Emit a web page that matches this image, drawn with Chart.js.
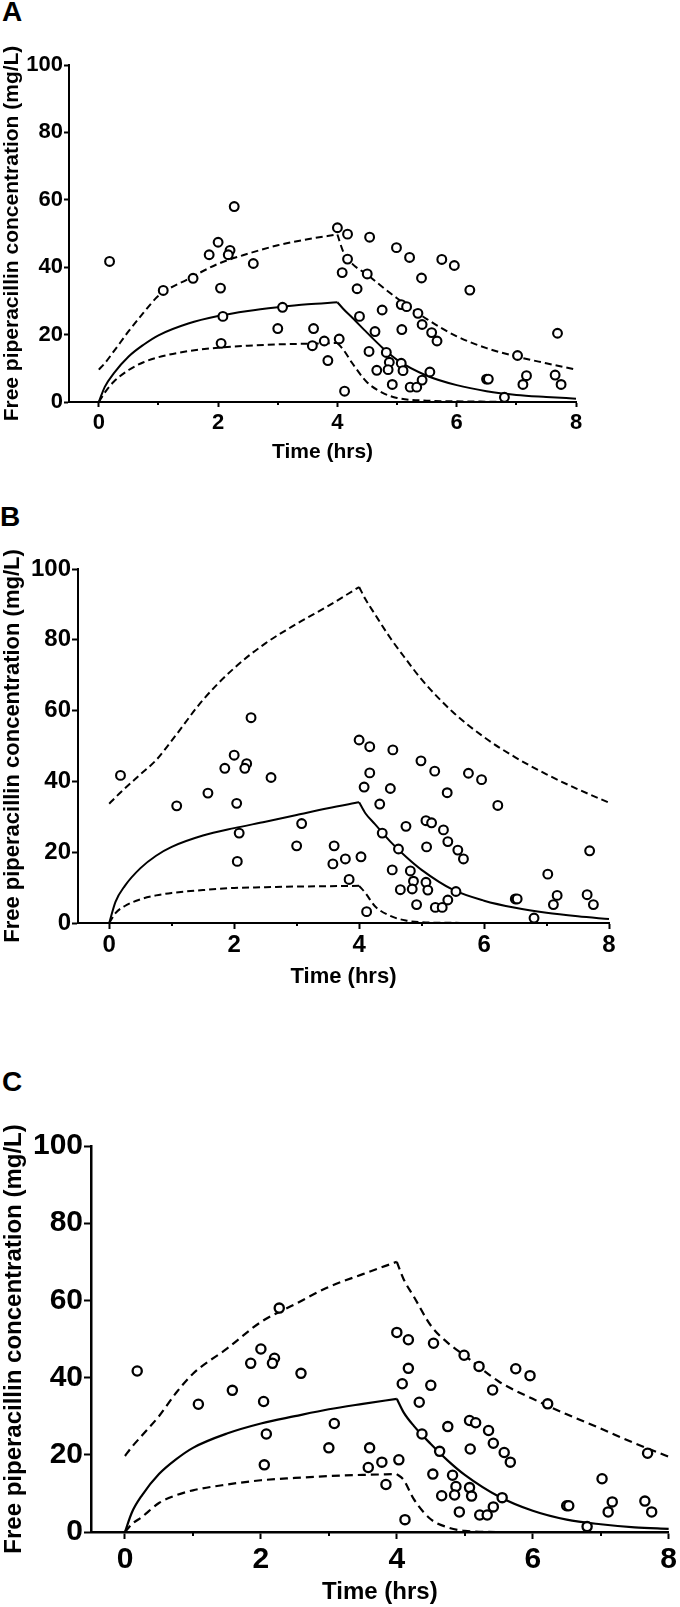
<!DOCTYPE html>
<html>
<head>
<meta charset="utf-8">
<title>Free piperacillin concentration</title>
<script src="https://cdn.jsdelivr.net/npm/chart.js@4.4.1/dist/chart.umd.min.js"></script>
<style>
  html, body { margin: 0; padding: 0; background: #fff; }
  body { position: relative; width: 680px; height: 1607px; overflow: hidden; font-family: 'Liberation Sans', Arial, sans-serif; }
  canvas { position: absolute; left: 0; }
  .letter { position: absolute; font-weight: bold; font-size: 28px; line-height: 28px; color: #000; }
</style>
</head>
<body>
<div class="letter" style="left:2px;top:-2px">A</div>
<div class="letter" style="left:0px;top:503px">B</div>
<div class="letter" style="left:2px;top:1068px">C</div>
<canvas id="chartA" width="680" height="465" style="top:0px;width:680px;height:465px"></canvas>
<canvas id="chartB" width="680" height="520" style="top:470px;width:680px;height:520px"></canvas>
<canvas id="chartC" width="680" height="567" style="top:1040px;width:680px;height:567px"></canvas>
<script>
// observed concentrations (same points in every panel)
const obsTime = [0.18, 1.08, 1.58, 1.85, 2.0, 2.2, 2.17, 2.27, 2.04, 2.59, 2.08, 2.05, 3.08, 3.0, 3.6, 3.58,
  3.78, 3.84, 4.03, 4.0, 4.17, 4.54, 4.99, 5.21, 5.75, 5.96, 4.17, 4.08, 4.5, 5.41, 4.33, 6.22, 5.07, 5.16,
  4.75, 5.35, 4.37, 5.42, 4.63, 5.08, 5.58, 5.67, 4.53, 4.82, 4.87, 5.07, 4.66, 4.85, 5.1, 5.55, 4.12, 4.92,
  5.22, 5.33, 5.42, 6.5, 6.53, 6.8, 7.02, 7.17, 7.11, 7.69, 7.65, 7.75];
const obsConc = [41.7, 33.1, 36.7, 43.7, 47.4, 45.0, 43.7, 58.0, 33.8, 41.1, 25.4, 17.4, 28.1, 21.8, 21.8, 16.7,
  18.1, 12.3, 18.7, 51.7, 49.8, 48.9, 45.8, 42.9, 42.3, 40.5, 42.4, 38.4, 38.0, 36.8, 33.6, 33.2, 28.9, 28.3,
  27.3, 26.3, 25.4, 23.0, 20.9, 21.5, 20.6, 18.1, 15.0, 14.7, 11.8, 11.5, 9.4, 9.6, 9.3, 8.9, 3.2, 5.2,
  4.4, 4.4, 6.5, 6.8, 6.8, 1.4, 13.8, 7.8, 5.2, 20.4, 8.0, 5.2];

// simulated curves: infusion phase (0-4 h) and post-infusion phase (4-8 h)
const riseTime = [0, 0.1, 0.25, 0.5, 0.75, 1, 1.5, 2, 2.5, 3, 3.5, 4];
const fallTime = [4, 4.1, 4.25, 4.5, 4.75, 5, 5.5, 6, 6.5, 7, 7.5, 8];

const aMedianRise = [0, 4.5, 8.5, 13.5, 17, 19.8, 23.3, 25.5, 27, 28.1, 29, 29.6];
const aMedianFall = [29.6, 27.6, 25, 20.5, 16.2, 12.5, 7.8, 5, 3.2, 2.1, 1.5, 1.0];
const aUpperRise = [9.6, 11.5, 15, 21, 26.5, 31.5, 36.5, 41, 44, 46.5, 48.3, 49.7];
const aUpperFall = [49.7, 44.5, 41, 37.8, 34.2, 30.8, 24.6, 19.5, 16, 13.5, 11.5, 9.6];
const aLowerRise = [0, 2.8, 6, 9.5, 11.8, 13.3, 15.1, 16.1, 16.7, 17.1, 17.3, 17.5];
const aLowerFall = [17.5, 15.5, 11.5, 5.8, 2.8, 1.2, 0.4, 0.2, 0.1, 0, 0, 0];

const bMedianRise = [0, 6, 10.5, 15.5, 19, 21.5, 24.7, 26.8, 28.6, 30.5, 32.4, 34.1];
const bMedianFall = [34.1, 31, 28, 23, 18.7, 15, 9.4, 6.3, 4.3, 2.9, 1.9, 1.1];
const bUpperRise = [33.7, 35.5, 38, 42, 46, 51.5, 63, 72, 79, 84.5, 89.5, 94.9];
const bUpperFall = [94.9, 91.5, 87.3, 80.5, 74.5, 68.8, 59.6, 52.5, 46.8, 42, 37.8, 34];
const bLowerRise = [0, 2.8, 4.8, 6.7, 7.8, 8.5, 9.3, 9.9, 10.1, 10.3, 10.4, 10.5];
const bLowerFall = [10.5, 8.5, 4.8, 2.0, 0.7, 0.2, 0.05, 0, 0, 0, 0, 0];

const cMedianRise = [0, 5, 9.5, 15, 18.8, 21.8, 25.5, 28.1, 30, 31.8, 33.2, 34.5];
const cMedianFall = [34.5, 31, 27.5, 22.8, 18.5, 14.8, 9.2, 5.5, 3.2, 2.0, 1.2, 0.8];
const cUpperRise = [19.7, 22, 25, 30, 36, 41, 47.5, 54.4, 59, 63.5, 66.8, 70];
const cUpperFall = [70, 65.5, 61, 53.5, 49, 45.7, 39, 34.5, 30.5, 26.8, 23, 19.5];
const cLowerRise = [0, 2, 3.9, 7.5, 9.5, 10.8, 12.3, 13.4, 14, 14.5, 14.8, 15];
const cLowerFall = [15, 13.5, 8.5, 3.3, 1.2, 0.3, 0, 0, 0, 0, 0, 0];

const xTicks = [0, 2, 4, 6, 8];
const xMinorTicks = [1, 3, 5, 7];
const yTicks = [0, 20, 40, 60, 80, 100];

const FONT = "'Liberation Sans', Arial, sans-serif";

// short unlabeled ticks at the odd hours
const minorTicks = {
    id: 'minorTicks',
    afterDraw(chart, args, opts) {
        const { ctx, chartArea } = chart;
        const x = chart.scales.x;
        ctx.save();
        ctx.strokeStyle = '#000';
        ctx.lineWidth = opts.width;
        xMinorTicks.forEach(v => {
            const px = Math.round(x.getPixelForValue(v));
            ctx.beginPath();
            ctx.moveTo(px, chartArea.bottom);
            ctx.lineTo(px, chartArea.bottom + opts.length);
            ctx.stroke();
        });
        ctx.restore();
    }
};

function curve(times, values, dash, width) {
    return {
        type: 'line',
        data: times.map((t, i) => ({ x: t, y: values[i] })),
        borderColor: '#000',
        borderWidth: width,
        borderDash: dash,
        pointRadius: 0,
        fill: false,
        cubicInterpolationMode: 'monotone',
        clip: false
    };
}

function drawPanel(id, series, p) {
    const ctx = document.getElementById(id).getContext('2d');
    const dash = p.dash;
    new Chart(ctx, {
        type: 'scatter',
        data: {
            datasets: [
                {
                    type: 'scatter',
                    data: obsTime.map((t, i) => ({ x: t, y: obsConc[i] })),
                    pointStyle: 'circle',
                    pointRadius: p.pointRadius,
                    pointBorderWidth: p.pointBorder,
                    borderColor: '#000',
                    backgroundColor: '#fff',
                    clip: false
                },
                curve(riseTime, series.medianRise, [], p.lineWidth),
                curve(fallTime, series.medianFall, [], p.lineWidth),
                curve(riseTime, series.upperRise, dash, p.lineWidth),
                curve(fallTime, series.upperFall, dash, p.lineWidth),
                curve(riseTime, series.lowerRise, dash, p.lineWidth),
                curve(fallTime, series.lowerFall, dash, p.lineWidth)
            ]
        },
        options: {
            responsive: false,
            animation: false,
            events: [],
            layout: { padding: { top: p.top, right: p.right, left: 0, bottom: 0 } },
            plugins: {
                legend: { display: false },
                tooltip: { enabled: false },
                minorTicks: { length: p.minorLen, width: 2 }
            },
            scales: {
                x: {
                    type: 'linear',
                    min: -0.5,
                    max: 8,
                    afterBuildTicks: s => { s.ticks = xTicks.map(v => ({ value: v })); },
                    afterFit: s => { s.height = p.xAxisHeight; },
                    grid: { drawOnChartArea: false, drawTicks: true, tickLength: p.tickLen, tickWidth: 2, tickColor: '#000' },
                    border: { display: true, color: '#000', width: p.axisWidth },
                    ticks: { color: '#000', padding: p.xTickPad, maxRotation: 0, font: { family: FONT, size: p.tickFont, weight: 'bold' } },
                    title: {
                        display: true,
                        text: 'Time (hrs)',
                        color: '#000',
                        padding: { top: 0, bottom: 0 },
                        font: { family: FONT, size: p.titleFont, weight: 'bold' }
                    }
                },
                y: {
                    type: 'linear',
                    min: 0,
                    max: 100,
                    afterBuildTicks: s => { s.ticks = yTicks.map(v => ({ value: v })); },
                    afterFit: s => { s.width = p.yAxisWidth; },
                    grid: { drawOnChartArea: false, drawTicks: true, tickLength: p.tickLen, tickWidth: 2, tickColor: '#000' },
                    border: { display: true, color: '#000', width: p.axisWidth },
                    ticks: { color: '#000', padding: 1, font: { family: FONT, size: p.tickFont, weight: 'bold' } },
                    title: {
                        display: true,
                        text: 'Free piperacillin concentration (mg/L)',
                        color: '#000',
                        padding: { top: 0, bottom: 0 },
                        font: { family: FONT, size: p.titleFont, weight: 'bold' }
                    }
                }
            }
        },
        plugins: [minorTicks]
    });
}

drawPanel('chartA',
    { medianRise: aMedianRise, medianFall: aMedianFall, upperRise: aUpperRise, upperFall: aUpperFall, lowerRise: aLowerRise, lowerFall: aLowerFall },
    { top: 65, right: 104, yAxisWidth: 69, xAxisHeight: 63, tickLen: 5, minorLen: 3, xTickPad: 3, tickFont: 22, titleFont: 21,
      axisWidth: 2, lineWidth: 2, dash: [7, 4], pointRadius: 4.4, pointBorder: 2.1 });

drawPanel('chartB',
    { medianRise: bMedianRise, medianFall: bMedianFall, upperRise: bUpperRise, upperFall: bUpperFall, lowerRise: bLowerRise, lowerFall: bLowerFall },
    { top: 99, right: 71, yAxisWidth: 78, xAxisHeight: 67, tickLen: 6, minorLen: 3, xTickPad: 2, tickFont: 24, titleFont: 22,
      axisWidth: 2, lineWidth: 2, dash: [7, 4], pointRadius: 4.4, pointBorder: 2.1 });

drawPanel('chartC',
    { medianRise: cMedianRise, medianFall: cMedianFall, upperRise: cUpperRise, upperFall: cUpperFall, lowerRise: cLowerRise, lowerFall: cLowerFall },
    { top: 106, right: 8, yAxisWidth: 91, xAxisHeight: 75, tickLen: 7, minorLen: 4, xTickPad: 3, tickFont: 30, titleFont: 24,
      axisWidth: 2.5, lineWidth: 2.2, dash: [8, 5], pointRadius: 4.6, pointBorder: 2.3 });
</script>
</body>
</html>
